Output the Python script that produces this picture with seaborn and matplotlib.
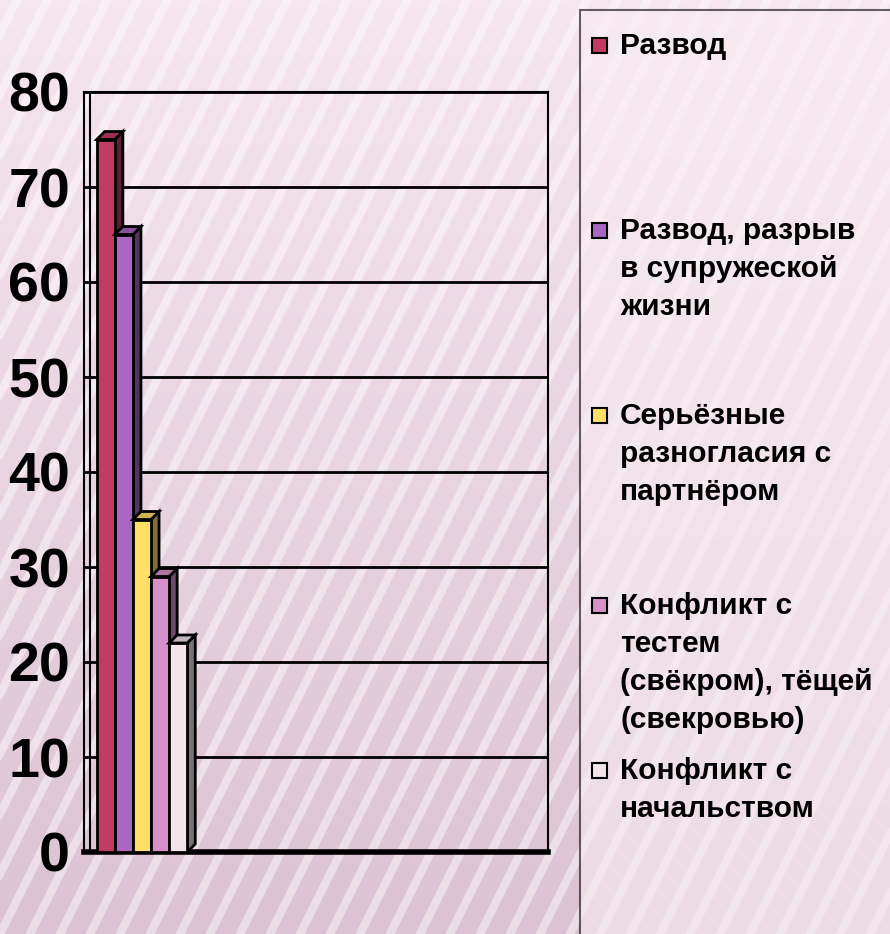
import numpy as np
import pandas as pd
import seaborn as sns
import matplotlib.pyplot as plt
from matplotlib.patches import Polygon, Rectangle
from matplotlib.lines import Line2D
from matplotlib.colors import to_rgb

# данные
categories = ["1", "2", "3", "4"]
series = ["Развод", "Развод, разрыв в супружеской жизни",
          "Серьёзные разногласия с партнёром",
          "Конфликт с тестем (свёкром), тёщей (свекровью)",
          "Конфликт с начальством"]
legend_labels = ["Развод", "Развод, разрыв\nв супружеской\nжизни",
                 "Серьёзные\nразногласия с\nпартнёром",
                 "Конфликт с\nтестем\n(свёкром), тёщей\n(свекровью)",
                 "Конфликт с\nначальством"]
values = [75, 65, 35, 29, 22]
colors = ["#c23b63", "#aa66c0", "#ffdf66", "#d891c8", "#f3e4ec"]
yticks = [0, 10, 20, 30, 40, 50, 60, 70, 80]

df = pd.DataFrame({"cat": categories[0], "series": series, "value": values})

sns.set_style("white")
plt.rcParams["font.family"] = ["Liberation Sans", "DejaVu Sans"]

W, H = 890, 934
fig = plt.figure(figsize=(W / 100, H / 100), dpi=100)

# фон: градиент + диагональные полосы
bg = fig.add_axes([0, 0, 1, 1], zorder=-10)
grad = np.linspace(0, 1, 256).reshape(-1, 1)
top_c = np.array(to_rgb("#f6e6ef"))
bot_c = np.array(to_rgb("#dcc2d2"))
img = top_c * (1 - grad[..., None]) + bot_c * grad[..., None]
img = np.repeat(img, 2, axis=1)
bg.imshow(img, aspect="auto", extent=[0, W, 0, H], origin="upper")
for x0 in np.arange(-600, W + 50, 30):
    bg.add_line(Line2D([x0, x0 + 0.5 * H], [0, H], color="white", lw=6, alpha=0.45))
bg.set_xlim(0, W)
bg.set_ylim(0, H)
bg.axis("off")

# основная область
ax_l, ax_r, ax_b, ax_t = 84, 548, 852, 92
ax = fig.add_axes([ax_l / W, (H - ax_b) / H, (ax_r - ax_l) / W, (ax_b - ax_t) / H])
ax.set_facecolor("none")

sns.barplot(data=df, x="cat", y="value", hue="series", order=categories,
            hue_order=series, palette=colors, saturation=1, edgecolor="black",
            linewidth=2, ax=ax, legend=False, width=0.78)

ax.set_xlim(-0.5, len(categories) - 0.5)
ax.set_ylim(0, 80)
ax.set_yticks(yticks)
ax.set_yticklabels([str(t) for t in yticks])
ax.set_xticks(np.arange(-0.5, len(categories), 1))
ax.set_xticklabels([])
ax.set_xlabel("")
ax.set_ylabel("")
ax.yaxis.grid(True, color="black", lw=2)
ax.set_axisbelow(True)
ax.tick_params(axis="y", length=6, width=1.5, color="black", pad=4,
               labelsize=40, labelcolor="black")
for lab in ax.get_yticklabels():
    lab.set_fontweight("bold")
ax.tick_params(axis="x", length=7, width=2, color="black", direction="out")
for s in ["left", "right", "top"]:
    ax.spines[s].set_color("black")
    ax.spines[s].set_linewidth(1.5)
ax.spines["bottom"].set_color("black")
ax.spines["bottom"].set_linewidth(4)
# задняя стенка
ax.axvline(-0.5 + 6 / ((ax_r - ax_l) / len(categories)), color="black", lw=1.5, zorder=1)

# объём столбцов
bw_px = (ax_r - ax_l) / len(categories)
dx = 8 / bw_px
dy = 8 / ((ax_b - ax_t) / 80)
bars = [p for p in ax.patches if p.get_height() > 0]
for i, p in enumerate(bars):
    x0 = p.get_x()
    x1 = x0 + p.get_width()
    h = p.get_height()
    c = np.array(p.get_facecolor()[:3])
    p.set_zorder(3 + 2 * i)
    side = Polygon([(x1, 0), (x1 + dx, dy), (x1 + dx, h + dy), (x1, h)],
                   closed=True, facecolor=c * 0.5, edgecolor="black", lw=2, zorder=2 + 2 * i)
    top = Polygon([(x0, h), (x1, h), (x1 + dx, h + dy), (x0 + dx, h + dy)],
                  closed=True, facecolor=c * 0.8, edgecolor="black", lw=2, zorder=2 + 2 * i)
    ax.add_patch(side)
    ax.add_patch(top)

# легенда
leg_x, leg_y = 580, 10
fig.patches.append(Rectangle((leg_x / W, -0.01), (W - leg_x + 10) / W, 1 - leg_y / H + 0.01,
                             transform=fig.transFigure, facecolor="#f8ecf2", alpha=0.6,
                             edgecolor="black", lw=1.5, zorder=5))
entry_y = [45, 230, 415, 605, 770]
for lab, col, yy in zip(legend_labels, colors, entry_y):
    fig.patches.append(Rectangle((592 / W, 1 - (yy + 8) / H), 15 / W, 15 / H,
                                 transform=fig.transFigure, facecolor=col,
                                 edgecolor="black", lw=1.5, zorder=6))
    fig.text(620 / W, 1 - (yy - 13) / H, lab, fontsize=21.5, fontweight="bold",
             color="black", va="top", ha="left", linespacing=1.45, zorder=7)

fig.savefig("out.png", dpi=100)
